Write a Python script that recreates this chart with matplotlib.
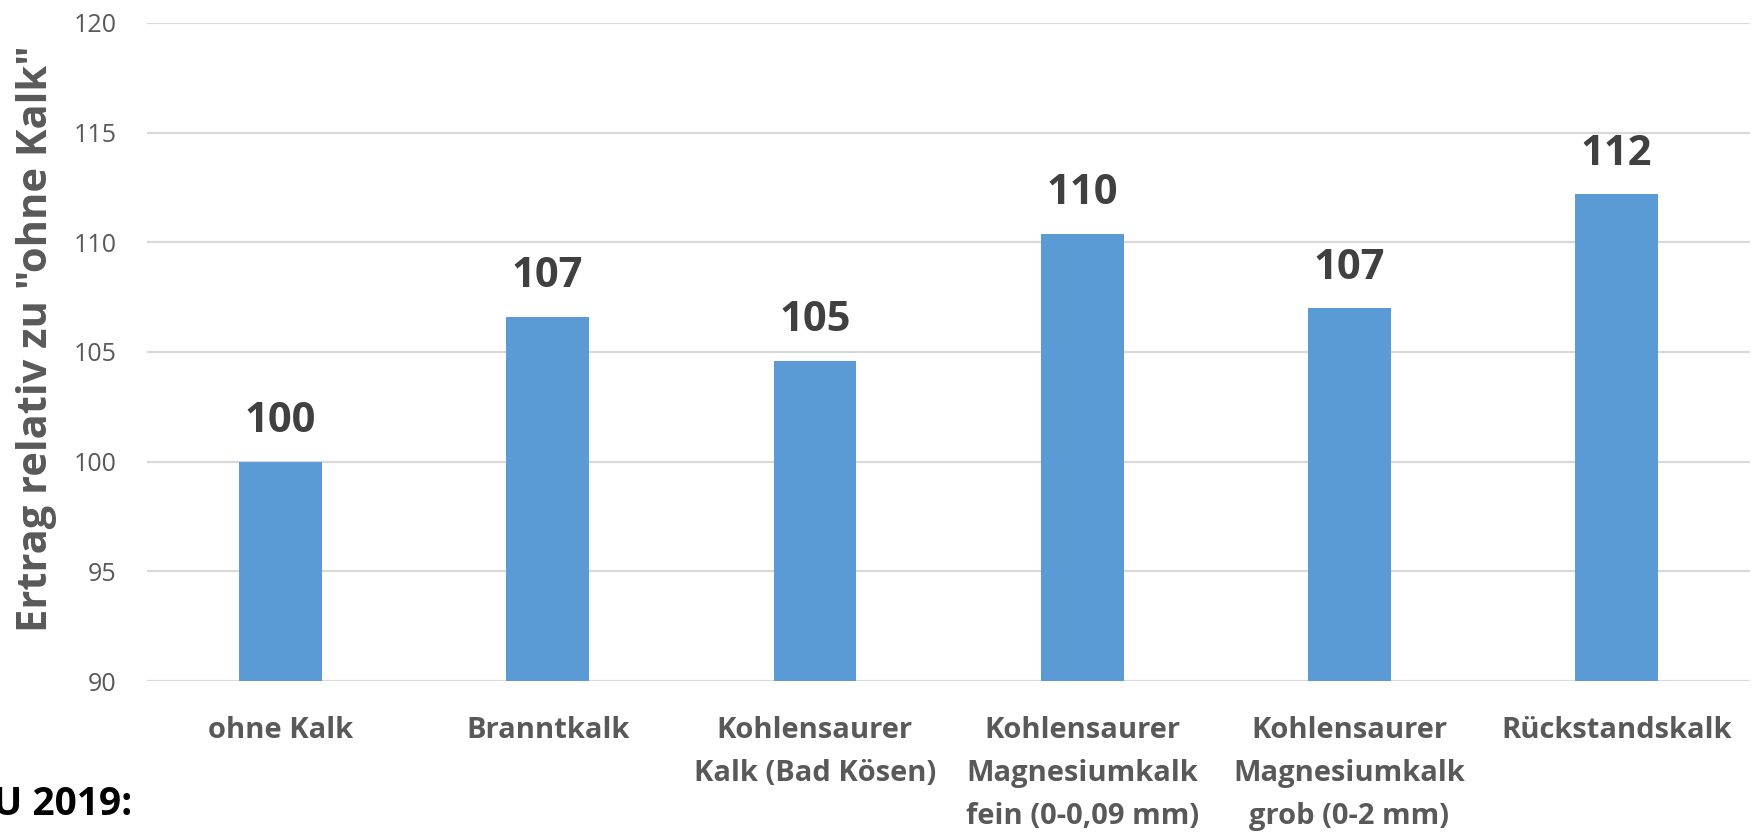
import matplotlib.pyplot as plt

categories = ["ohne Kalk", "Branntkalk", "Kohlensaurer\nKalk (Bad Kösen)",
              "Kohlensaurer\nMagnesiumkalk\nfein (0-0,09 mm)",
              "Kohlensaurer\nMagnesiumkalk\ngrob (0-2 mm)", "Rückstandskalk"]
values = [100.0, 106.6, 104.6, 110.4, 107.0, 112.2]
labels = ["100", "107", "105", "110", "107", "112"]
yticks = [90, 95, 100, 105, 110, 115, 120]

plt.rcParams['font.family'] = ['Open Sans', 'DejaVu Sans']
grey = '#595959'

fig = plt.figure(figsize=(17.56, 8.36), dpi=100)
ax = fig.add_axes([0.0837, 0.1854, 0.9129, 0.7871])

x = range(len(categories))
bars = ax.bar(x, values, width=0.31, color='#5b9bd5', zorder=2)
for b, lab in zip(bars, labels):
    ax.annotate(lab, (b.get_x() + b.get_width() / 2, b.get_height()),
                xytext=(0, 14), textcoords='offset points',
                ha='center', va='bottom', fontsize=30, fontweight='bold', color='#404040')

ax.set_ylim(90, 120)
ax.set_xlim(-0.5, len(categories) - 0.5)
ax.set_yticks(yticks)
ax.tick_params(axis='y', length=0, pad=22, labelsize=18, labelcolor=grey)
ax.set_xticks(list(x))
ax.set_xticklabels(categories, fontsize=21, fontweight='bold', color=grey, linespacing=1.65)
ax.tick_params(axis='x', length=0, pad=25)
ax.grid(axis='y', color='#d9d9d9', linewidth=1.6, zorder=0)
for s in ax.spines.values():
    s.set_visible(False)

ax.set_ylabel('Ertrag relativ zu "ohne Kalk"', fontsize=30, fontweight='bold', color=grey)
ax.yaxis.set_label_coords(-0.056, 0.52)

fig.text(132 / 1756, 1 - 815 / 836, "U 2019:", ha='right', va='baseline',
         fontsize=28, fontweight='bold', color='black')

fig.savefig('out.png', dpi=100)
